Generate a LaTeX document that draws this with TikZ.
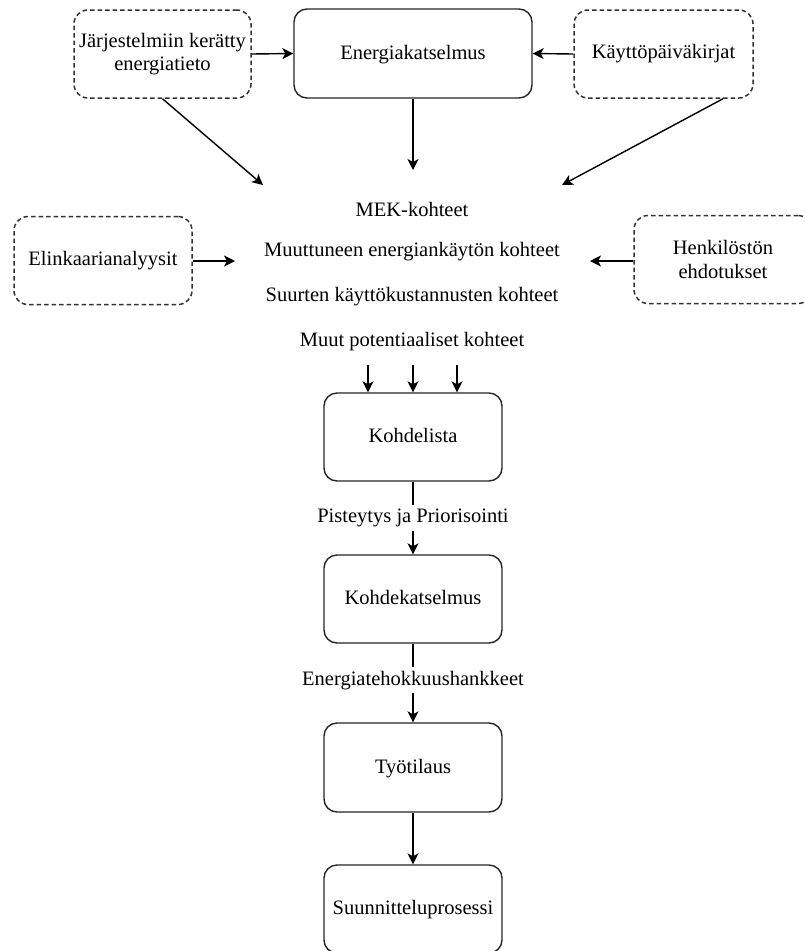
\documentclass[tikz,border=0pt]{standalone}
\usepackage{fontspec}
\setmainfont{Liberation Serif}
\usetikzlibrary{arrows.meta,calc}

\tikzset{
  every node/.style={font=\fontsize{20.5}{23.5}\selectfont, text=black},
  solidbox/.style={draw=black!85, line width=1.4pt, rounded corners=13pt,
    minimum width=178pt, minimum height=88pt, inner sep=0pt,
    text height=14pt, text depth=3pt},
  dashbox/.style={draw=black!80, line width=1.5pt, dash pattern=on 4.5pt off 3pt,
    rounded corners=14pt, minimum width=177pt, minimum height=88pt,
    inner sep=0pt, align=center},
  lbl/.style={anchor=base, inner sep=0pt},
  gaplbl/.style={anchor=base, fill=white, inner xsep=2pt, inner ysep=4pt},
  arr/.style={line width=1.4pt, draw=black,
    -{Stealth[length=11pt,width=11pt,inset=3pt]}}
}

\begin{document}
\begin{tikzpicture}[x=1pt,y=-1pt]
\clip (0,0) rectangle (804,951);
\fill[white] (0,0) rectangle (804,951);

% sources feeding the audit
\node[dashbox] (jarj) at (162.5,54) {Järjestelmiin kerätty\\energiatieto};
\node[solidbox, minimum width=238pt, minimum height=89pt] (ek) at (413,53.5) {Energiakatselmus};
\node[dashbox, minimum width=179pt] (kay) at (663.5,54) {Käyttöpäiväkirjat};

\node[dashbox, minimum width=178pt] (elin) at (103,260.5) {Elinkaarianalyysit};
\node[dashbox, minimum width=178pt] (henk) at (723,259.5) {Henkilöstön\\ehdotukset};

% candidate target groups
\node[lbl] (mek) at (412,216) {MEK-kohteet};
\node[lbl] (muut1) at (412,256.5) {Muuttuneen energiankäytön kohteet};
\node[lbl] (suur) at (412,301.5) {Suurten käyttökustannusten kohteet};
\node[lbl] (muut2) at (412,346.5) {Muut potentiaaliset kohteet};

% main process chain
\node[solidbox] (kl) at (413,437) {Kohdelista};
\node[solidbox] (kk) at (413,599) {Kohdekatselmus};
\node[solidbox, minimum height=89pt] (tt) at (413,767.5) {Työtilaus};
\node[solidbox] (sp) at (413,909) {Suunnitteluprosessi};

% free ends of the incoming connectors
\coordinate (t1) at (263,185);
\coordinate (t2) at (413,170);
\coordinate (t3) at (562,185);
\coordinate (t4) at (235,261);
\coordinate (t5) at (590,261);

\draw[arr] (jarj.east) -- (ek.west);
\draw[arr] (kay.west) -- (ek.east);
\draw[arr] (jarj.south) -- (t1);
\draw[arr] (ek.south) -- (t2);
\draw[arr] ($(kay.south)+(59.5,0)$) -- (t3);
\draw[arr] (elin.east |- t4) -- (t4);
\draw[arr] (henk.west |- t5) -- (t5);

\coordinate (m1) at (368,365);
\coordinate (m2) at (413,365);
\coordinate (m3) at (457,365);
\draw[arr] (m1) -- (m1 |- kl.north);
\draw[arr] (m2) -- (m2 |- kl.north);
\draw[arr] (m3) -- (m3 |- kl.north);

\draw[arr] (kl.south) -- (kk.north);
\node[gaplbl] (pist) at (413,522.5) {Pisteytys ja Priorisointi};
\draw[arr] (kk.south) -- (tt.north);
\node[gaplbl] (eth) at (413,685) {Energiatehokkuushankkeet};
\draw[arr] (tt.south) -- (sp.north);
\end{tikzpicture}
\end{document}
